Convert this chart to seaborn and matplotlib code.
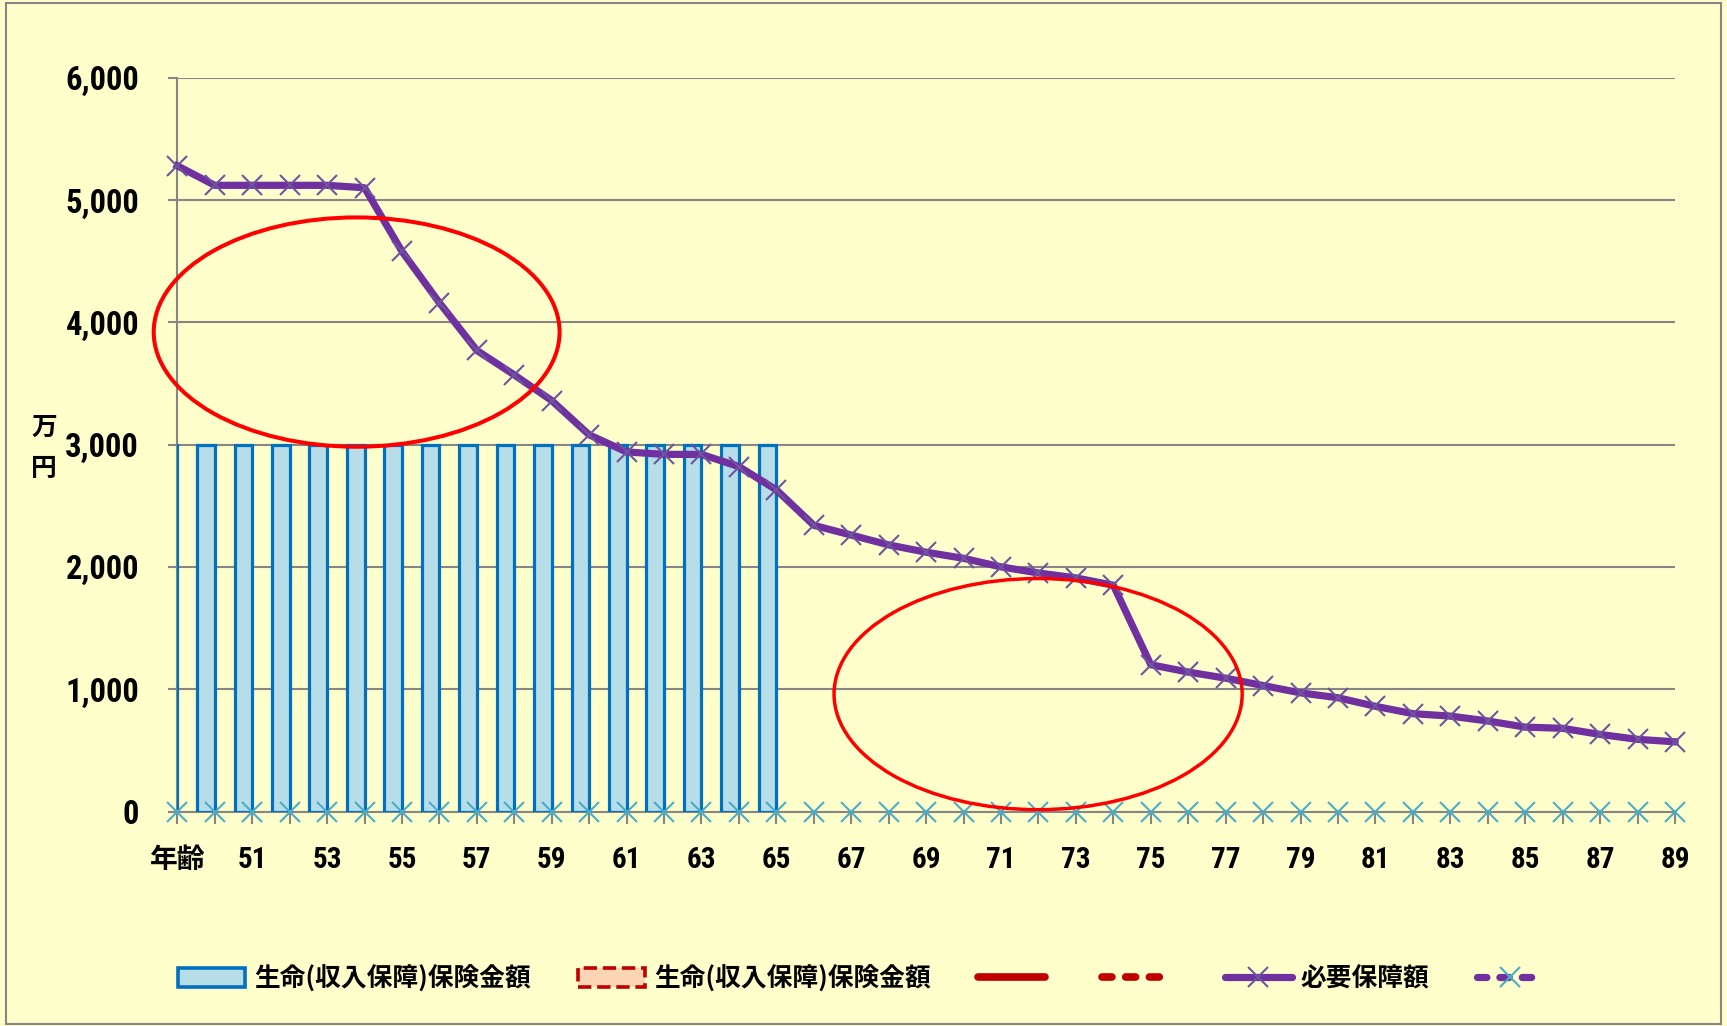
import numpy as np
import pandas as pd
import seaborn as sns
import matplotlib
matplotlib.use("Agg")
import matplotlib.pyplot as plt
from matplotlib import font_manager
from matplotlib.patches import Ellipse, Rectangle, Patch
from matplotlib.lines import Line2D
from matplotlib.ticker import FuncFormatter

# ---------------------------------------------------------------- data
categories = ["年齢"] + [str(a) for a in range(50, 90)]

# 生命(収入保障)保険金額 (万円) – in force up to age 65
coverage = [3000, 3000, 3000, 3000, 3000, 3000, 3000, 3000, 3000,
            3000, 3000, 3000, 3000, 3000, 3000, 3000, 3000]
coverage = coverage + [np.nan] * (len(categories) - len(coverage))
# second coverage series (no amounts)
coverage_alt = [np.nan] * len(categories)

# 必要保障額 (万円)
required = [5280, 5120, 5120, 5120, 5120, 5100, 4580, 4160, 3770, 3570,
            3360, 3080, 2940, 2920, 2920, 2820, 2630, 2340, 2260, 2180,
            2120, 2070, 2000, 1950, 1910, 1850, 1200, 1140, 1090, 1030,
            970, 930, 860, 800, 780, 740, 690, 680, 630, 590, 570]
# zero reference series drawn as markers only
baseline = [0] * len(categories)

yticks = [0, 1000, 2000, 3000, 4000, 5000, 6000]
legend_labels = ["生命(収入保障)保険金額", "生命(収入保障)保険金額", "", "",
                 "必要保障額", ""]

# ---------------------------------------------------------------- style
BG = "#FFFFCC"
GRID = "#868686"
BAR_FACE = "#B7DDE8"
BAR_EDGE = "#0070C0"
ALT_FACE = "#FCD5B5"
DARK_RED = "#C00000"
PURPLE = "#7030A0"
PURPLE_MK = "#6E549E"
TEAL = "#4BACC6"

available = {f.name for f in font_manager.fontManager.ttflist}
NUM_FONT = next((f for f in ["Liberation Sans Narrow", "DejaVu Sans Condensed",
                             "Roboto Condensed", "Liberation Sans"]
                 if f in available), "DejaVu Sans")
CJK_FONT = "Noto Sans CJK JP"

W, H = 1727, 1026
fig = plt.figure(figsize=(W / 100, H / 100), dpi=100, facecolor=BG)
ax = fig.add_axes([177.3 / W, 1 - 811.5 / H, (1675 - 177.3) / W, (811.5 - 77.7) / H])
ax.set_facecolor(BG)

# ---------------------------------------------------------------- bars
bar_df = pd.DataFrame({
    "区分": categories * 2,
    "金額": coverage + coverage_alt,
    "系列": ["既契約"] * len(categories) + ["追加"] * len(categories),
})
sns.barplot(data=bar_df, x="区分", y="金額", hue="系列", order=categories,
            hue_order=["既契約", "追加"],
            palette={"既契約": BAR_FACE, "追加": ALT_FACE},
            saturation=1, width=0.94, errorbar=None, legend=False,
            edgecolor=BAR_EDGE, linewidth=2.3, zorder=3, ax=ax)

# ---------------------------------------------------------------- lines
sns.lineplot(x=categories, y=required, sort=False, color=PURPLE,
             linewidth=5.2, marker="x", markersize=14,
             markeredgecolor=PURPLE_MK, markeredgewidth=1.5,
             clip_on=False, zorder=4, ax=ax)
sns.lineplot(x=categories, y=baseline, sort=False, linestyle="",
             marker="x", markersize=14, markeredgecolor=TEAL,
             markeredgewidth=1.5, color=TEAL, clip_on=False, zorder=5, ax=ax)

# ---------------------------------------------------------------- axes
ax.set_xlim(0, len(categories) - 1)
ax.set_ylim(0, 6000)
ax.set_yticks(yticks)
ax.yaxis.set_major_formatter(FuncFormatter(lambda v, p: f"{v:,.0f}"))
ax.set_xticks(range(len(categories)))
ax.set_xticklabels([c if i % 2 == 0 else "" for i, c in enumerate(categories)])
ax.set_xlabel("")
ax.set_ylabel("")

ax.set_axisbelow(True)
ax.yaxis.grid(True, color=GRID, linewidth=1.5)
ax.xaxis.grid(False)
for side in ("top", "right"):
    ax.spines[side].set_visible(False)
for side in ("left", "bottom"):
    ax.spines[side].set_color(GRID)
    ax.spines[side].set_linewidth(1.5)

ax.tick_params(axis="y", length=6.5, width=1.5, color=GRID, pad=21)
ax.tick_params(axis="x", length=8.5, width=1.5, color=GRID, pad=16)
for lab in ax.get_yticklabels():
    lab.set_fontfamily([NUM_FONT, "DejaVu Sans"])
    lab.set_fontweight("bold")
    lab.set_fontsize(23.5)
for i, lab in enumerate(ax.get_xticklabels()):
    lab.set_fontweight("bold")
    if i == 0:
        lab.set_fontfamily([CJK_FONT, "DejaVu Sans"])
        lab.set_fontsize(20)
    else:
        lab.set_fontfamily([NUM_FONT, "DejaVu Sans"])
        lab.set_fontsize(21)

# unit label, one character per line
for ch, ypx in (("万", 427.5), ("円", 468)):
    fig.text(44 / W, 1 - ypx / H, ch, ha="center", va="center",
             fontfamily=[CJK_FONT, "DejaVu Sans"], fontweight="bold",
             fontsize=18.5)

# highlight rings (data coordinates: category position, 万円)
rings = [(4.79, 3920, 10.84, 1875, 2.9), (22.99, 960, 10.90, 1890, 2.5)]
for cx, cy, rw, rh, lw in rings:
    ax.add_patch(Ellipse((cx, cy), rw, rh, fill=False, edgecolor="#FF0000",
                         linewidth=lw, clip_on=False, zorder=6))

# ---------------------------------------------------------------- legend
dots = (0, (1.3, 1.8))
handles = [
    Patch(facecolor=BAR_FACE, edgecolor=BAR_EDGE, linewidth=2.6),
    Patch(facecolor=ALT_FACE, edgecolor=DARK_RED, linewidth=2.6, linestyle="--"),
    Line2D([], [], color=DARK_RED, linewidth=5.5, solid_capstyle="round"),
    Line2D([], [], color=DARK_RED, linewidth=5.5, linestyle=dots,
           dash_capstyle="round"),
    Line2D([], [], color=PURPLE, linewidth=5.2, marker="x", markersize=14,
           markeredgecolor=PURPLE_MK, markeredgewidth=1.5,
           solid_capstyle="round"),
    Line2D([], [], color=PURPLE, linewidth=5.2, linestyle=dots,
           dash_capstyle="round", marker="x", markersize=14,
           markeredgecolor=TEAL, markeredgewidth=1.5),
]
fig.legend(handles, legend_labels, loc="center left",
           bbox_to_anchor=(178 / W, 1 - 979 / H), ncol=6, frameon=False,
           prop={"family": [CJK_FONT, "DejaVu Sans"], "weight": "bold",
                 "size": 18.5},
           handlelength=2.6, handleheight=0.78, handletextpad=0.35,
           columnspacing=1.85, borderpad=0, borderaxespad=0)

# chart frame
fig.add_artist(Rectangle((6 / W, 2 / H), (1721 - 6) / W, (1023 - 2) / H,
                         transform=fig.transFigure, fill=False,
                         edgecolor=GRID, linewidth=1.5))

fig.savefig("out.png", dpi=100, facecolor=BG)
